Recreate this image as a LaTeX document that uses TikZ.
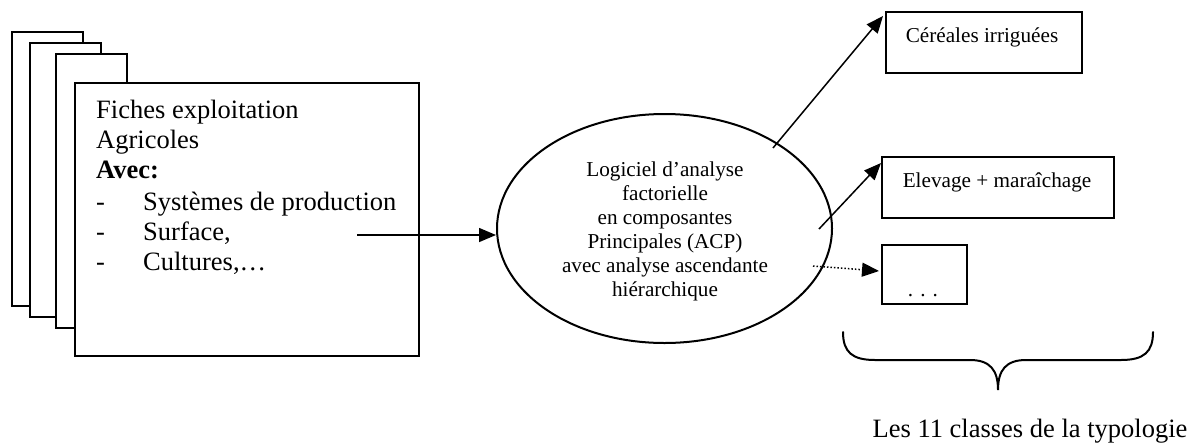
\documentclass[tikz,border=0pt]{standalone}
\usepackage{fontspec}
\setmainfont{Liberation Serif}
\usetikzlibrary{arrows.meta,shapes.geometric}
\begin{document}
\begin{tikzpicture}[x=1pt,y=-1pt,
  sheet/.style={draw,line width=2pt,fill=white,minimum width=0pt,inner sep=0pt},
  bigtxt/.style={font=\fontsize{26.5}{30}\selectfont,anchor=base west,inner sep=0pt},
  smalltxt/.style={font=\fontsize{21.2}{24}\selectfont,anchor=base,inner sep=0pt},
  conn/.style={line width=1.5pt,-{Triangle[length=17pt,width=14pt]}},
  dotconn/.style={line width=1.5pt,dotted,-{Triangle[length=17pt,width=14pt]}}]
\useasboundingbox (0,0) rectangle (1201,445);
% stacked sheets
\draw[line width=2pt,fill=white] (12,32) rectangle (83,306);
\draw[line width=2pt,fill=white] (30,43) rectangle (101,317);
\draw[line width=2pt,fill=white] (56,54) rectangle (127,328);
\node[sheet,minimum width=344pt,minimum height=273pt,anchor=north west] (main) at (74,82) {};
\node[bigtxt] (t1) at (96,118) {Fiches exploitation};
\node[bigtxt] (t2) at (96,148) {Agricoles};
\node[bigtxt] (t3) at (96,178) {\bfseries Avec:};
\node[bigtxt] (d1) at (96,210) {-};
\node[bigtxt] (t4) at (143,210) {Systèmes de production};
\node[bigtxt] (d2) at (96,240) {-};
\node[bigtxt] (t5) at (143,240) {Surface,};
\node[bigtxt] (d3) at (96,270) {-};
\node[bigtxt] (t6) at (143,270) {Cultures,…};
% ellipse
\node[ellipse,draw,line width=2pt,minimum width=335pt,minimum height=229pt,inner sep=0pt] (ell) at (664.5,228.5) {};
\node[smalltxt] (e1) at (665,176) {Logiciel d’analyse};
\node[smalltxt] (e2) at (665,200) {factorielle};
\node[smalltxt] (e3) at (665,224) {en composantes};
\node[smalltxt] (e4) at (665,248) {Principales (ACP)};
\node[smalltxt] (e5) at (665,272) {avec analyse ascendante};
\node[smalltxt] (e6) at (665,296) {hiérarchique};
% class boxes
\node[sheet,minimum width=196pt,minimum height=61pt,anchor=north west] (cer) at (885,11) {};
\node[smalltxt] (cert) at (982,42) {Céréales irriguées};
\node[sheet,minimum width=232pt,minimum height=61pt,anchor=north west] (ele) at (881,156) {};
\node[smalltxt] (elet) at (997,187) {Elevage + maraîchage};
\node[sheet,minimum width=85pt,minimum height=59pt,anchor=north west] (etc) at (881,244) {};
\node[smalltxt] (etct) at (923,296) {. . .};
% connectors
\coordinate (a0) at (357,235);
\draw[conn] (a0) -- (a0 -| ell.west);
\coordinate (b0) at (773,148);
\coordinate (b1) at (883,16);
\draw[conn] (b0) -- (b1);
\coordinate (c0) at (819,229);
\coordinate (c1) at (881,163);
\draw[conn] (c0) -- (c1);
\coordinate (f0) at (813,266);
\coordinate (f1) at (879,271);
\draw[dotconn] (f0) -- (f1);
% brace
\draw[line width=2pt,line cap=round] (843,332) .. controls (843,352) and (852,360) .. (875,360)
  -- (970,360) .. controls (990,360) and (998,370) .. (998,390)
  .. controls (998,370) and (1006,360) .. (1026,360)
  -- (1121,360) .. controls (1144,360) and (1153,352) .. (1153,332);
\node[font=\fontsize{26.5}{30}\selectfont,anchor=base,inner sep=0pt] (cap) at (1030,437) {Les 11 classes de la typologie};
\end{tikzpicture}
\end{document}
